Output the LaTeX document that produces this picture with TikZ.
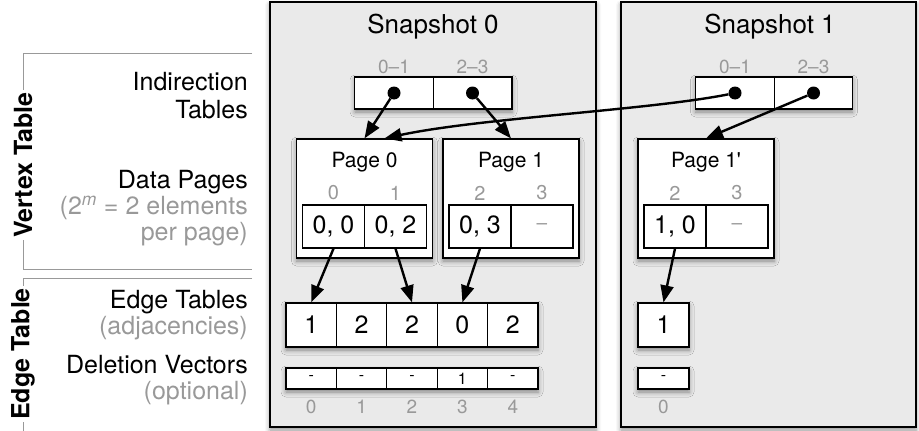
\documentclass[tikz,border=0pt]{standalone}
\usepackage{fontspec}
\setmainfont{TeX Gyre Heros}
\usetikzlibrary{arrows.meta,shadows.blur}
\definecolor{snapfill}{HTML}{EAEAEA}
\definecolor{lblgray}{HTML}{999999}
\newcommand\sidefont{\fontsize{25}{26}\selectfont}
\newcommand\idxfont{\fontsize{19}{20}\selectfont}
\tikzset{
  shade box/.style={blur shadow={shadow xshift=0pt,shadow yshift=-3pt,shadow blur radius=5pt,shadow opacity=45}},
  snapbox/.style={draw, line width=1.2pt, fill=snapfill, shade box, minimum height=425, inner sep=0},
  snaptitle/.style={font=\fontsize{26}{28}\selectfont},
  sidelbl/.style={anchor=east, align=right, inner sep=0, font=\sidefont},
  sidetitle/.style={rotate=90, fill=white, inner sep=2pt, font=\bfseries\fontsize{25}{26}\selectfont},
  bracket/.style={draw=lblgray, line width=1pt},
  tabframe/.style={draw, line width=1.2pt, fill=white, shade box, inner sep=0},
  cellbox/.style={draw, line width=1.2pt, fill=white, inner sep=0},
  idxlbl/.style={text=lblgray, inner sep=0, font=\idxfont},
  pagebox/.style={draw, line width=1.2pt, fill=white, shade box, minimum width=136, minimum height=119, inner sep=0},
  dot/.style={circle, fill=black, minimum size=13pt, inner sep=0},
  ptr/.style={line width=2.4pt, -{Triangle[length=17pt,width=13pt]}}
}
\begin{document}
\begin{tikzpicture}[x=1pt,y=-1pt]
  \useasboundingbox (0,0) rectangle (919,431);
  % snapshots
  \node[snapbox, minimum width=326] (snap0) at (433,214.5) {};
  \node[snapbox, minimum width=295] (snap1) at (768.5,214.5) {};
  \node[snaptitle] (snap0t) at (433,27) {Snapshot 0};
  \node[snaptitle] (snap1t) at (770,27) {Snapshot 1};

  % left side labels
  \draw[bracket] (252,53) -- (23,53) -- (23,269) -- (252,269);
  \draw[bracket] (252,278) -- (23,278) -- (23,431);
  \node[sidetitle] (vtab) at (23,165) {Vertex Table};
  \node[sidetitle] (etab) at (23,354) {Edge Table};
  \node[sidelbl] (indir) at (248,96) {Indirection\\[2pt]Tables};
  \node[sidelbl] (dpages) at (248,208) {Data Pages\\
    \textcolor{lblgray}{(2\textsuperscript{\itshape m} = 2 elements}\\
    \textcolor{lblgray}{per page)}};
  \node[sidelbl] (etabs) at (248,315) {Edge Tables\\\textcolor{lblgray}{(adjacencies)}};
  \node[sidelbl] (dvecs) at (248,380) {Deletion Vectors\\\textcolor{lblgray}{(optional)}};

  % indirection tables
  \node[tabframe, minimum width=157, minimum height=32] (ind0) at (433.5,93) {};
  \node[tabframe, minimum width=157, minimum height=32] (ind1) at (774,93) {};
  \foreach \s/\x in {a/394,b/735}{
    \foreach \i/\r in {0/0--1,1/2--3}{
      \node[cellbox, minimum width=78.5, minimum height=32] (i\s\i) at (\x+78.5*\i,93) {};
      \node[dot] (d\s\i) at (i\s\i) {};
      \node[idxlbl] at (\x+78.5*\i,67) {\r};
    }
  }

  % data pages
  \foreach \p/\x/\t/\ia/\ib in {pa/364.5/Page 0/0/1, pb/511/Page 1/2/3, pc/706/Page 1\textquotesingle/2/3}{
    \node[pagebox] (\p) at (\x,198.5) {};
    \node[font=\fontsize{21}{22}\selectfont] at (\x,162) {\t};
    \node[idxlbl, font=\fontsize{20}{21}\selectfont] at (\x-31,193) {\ia};
    \node[idxlbl, font=\fontsize{20}{21}\selectfont] at (\x+31,193) {\ib};
  }
  \tikzset{pcell/.style={cellbox, minimum width=62, minimum height=43, font=\fontsize{25}{26}\selectfont}}
  \node[pcell] (pa0) at (333.5,226.5) {0, 0};
  \node[pcell] (pa1) at (395.5,226.5) {0, 2};
  \node[pcell] (pb0) at (480,226.5) {0, 3};
  \node[pcell, font=\fontsize{19}{20}\selectfont] (pb1) at (542,226.5) {\textcolor{lblgray}{--}};
  \node[pcell] (pc0) at (675,226.5) {1, 0};
  \node[pcell, font=\fontsize{19}{20}\selectfont] (pc1) at (737,226.5) {\textcolor{lblgray}{--}};

  % edge tables and deletion vectors
  \node[tabframe, minimum width=252, minimum height=44] (etab0) at (412,325) {};
  \node[tabframe, minimum width=252, minimum height=21] (dvec0) at (412,378.5) {};
  \foreach \v [count=\i from 0] in {1,2,2,0,2}
    \node[cellbox, minimum width=50.4, minimum height=44, font=\fontsize{25}{26}\selectfont] (e\i) at (311.2+50.4*\i,325) {\v};
  \foreach \v [count=\i from 0] in {-,-,-,1,-}{
    \node[cellbox, minimum width=50.4, minimum height=21, font=\fontsize{16}{17}\selectfont] (v\i) at (311.2+50.4*\i,378.5) {\v};
    \node[idxlbl, font=\fontsize{19}{20}\selectfont] at (311.2+50.4*\i,407) {\i};
  }
  \node[tabframe, cellbox, minimum width=51, minimum height=44, font=\fontsize{25}{26}\selectfont] (f0) at (663.5,325) {1};
  \node[tabframe, cellbox, minimum width=51, minimum height=21, font=\fontsize{16}{17}\selectfont] (w0) at (663.5,378.5) {-};
  \node[idxlbl, font=\fontsize{19}{20}\selectfont] at (663.5,407) {0};

  % pointers
  \draw[ptr] (da0) -- (pa.north);
  \draw[ptr] (da1) -- (pb.north);
  \draw[ptr] (db0) .. controls (650,110) and (480,118) .. ([xshift=20pt]pa.north);
  \draw[ptr] (db1) -- (pc.north);
  \draw[ptr] (pa0.south) -- (e0.north);
  \draw[ptr] (pa1.south) -- (e2.north);
  \draw[ptr] (pb0.south) -- (e3.north);
  \draw[ptr] (pc0.south) -- (f0.north);
\end{tikzpicture}
\end{document}
